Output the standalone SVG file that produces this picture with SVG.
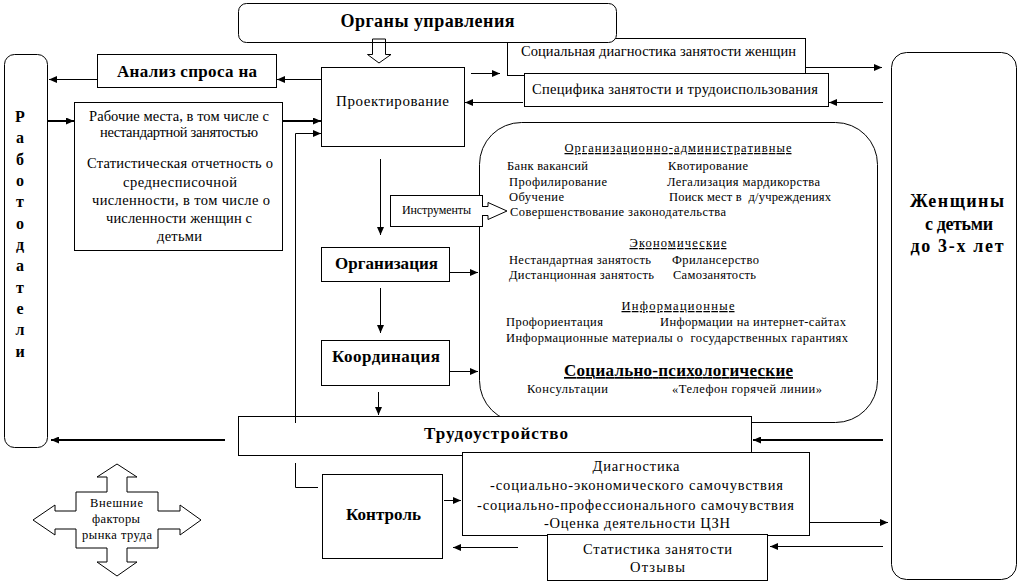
<svg xmlns="http://www.w3.org/2000/svg" width="1021" height="585" viewBox="0 0 1021 585">
<style>
.b{fill:#fff;stroke:#000;stroke-width:1}
.t{font-family:'Liberation Serif','DejaVu Serif',serif;font-size:14.5px;fill:#000}
.m{text-anchor:middle}
.s{font-size:12.5px}
.x{font-size:12px}
.bd{font-weight:bold;font-size:17px}
.u{text-decoration:underline}
.pre{white-space:pre}
.c{stroke:#000;stroke-width:1;fill:none}
.k{stroke-width:2}
</style>
<defs>
<marker id="a" markerUnits="userSpaceOnUse" markerWidth="8" markerHeight="7" refX="8" refY="3.5" orient="auto"><path d="M0,0 L8,3.5 L0,7 z" fill="#000"/></marker>
</defs>
<rect width="1021" height="585" fill="#fff"/>

<g id="rabotodateli">
<rect class="b" x="4.5" y="54.5" width="43" height="393" rx="10"/>
<g class="t m" font-family="Liberation Serif, DejaVu Serif, serif" style="font-weight:bold;font-size:16px">
<text x="20" y="122">Р</text><text x="20" y="143">а</text><text x="20" y="165">б</text><text x="20" y="186">о</text><text x="20" y="207">т</text><text x="20" y="229">о</text><text x="20" y="250">д</text><text x="20" y="271">а</text><text x="20" y="293">т</text><text x="20" y="314">е</text><text x="20" y="335">л</text><text x="20" y="357">и</text>
</g>
</g>

<g id="zhenshchiny">
<rect class="b" x="891.5" y="52.5" width="125" height="527" rx="15"/>
<text class="t m" style="font-weight:bold;font-size:18px" x="957" y="207" textLength="94">Женщины</text>
<text class="t m" style="font-weight:bold;font-size:18px" x="959" y="230" textLength="68">с детьми</text>
<text class="t m" style="font-weight:bold;font-size:18px" x="957" y="252" textLength="93">до 3-х лет</text>
</g>

<g id="socdiag">
<rect class="b" x="507.5" y="38.5" width="298" height="37"/>
<text class="t m" x="658.5" y="56" textLength="275">Социальная диагностика занятости женщин</text>
</g>
<g id="specifika">
<rect class="b" x="524.5" y="73.5" width="304" height="33"/>
<text class="t m" x="675" y="94" textLength="286">Специфика занятости и трудоиспользования</text>
</g>
<g id="organy">
<rect class="b" x="238.5" y="3.5" width="378" height="39" rx="8"/>
<text class="t m" style="font-weight:bold;font-size:18px" x="427.5" y="27" textLength="174">Органы управления</text>
</g>

<g id="analiz">
<rect class="b" x="97.5" y="54.5" width="179" height="33"/>
<text class="t m bd" x="187" y="77" textLength="140">Анализ спроса на</text>
</g>

<g id="rabochie">
<rect class="b" x="74.5" y="102.5" width="208" height="148"/>
<text class="t m" x="179" y="121" textLength="180">Рабочие места, в том числе с</text>
<text class="t m" x="179" y="137" textLength="158">нестандартной занятостью</text>
<text class="t m" x="180" y="168" textLength="186">Статистическая отчетность о</text>
<text class="t m" x="180" y="187" textLength="114">среднесписочной</text>
<text class="t m" x="181" y="205" textLength="178">численности, в том числе о</text>
<text class="t m" x="179" y="223" textLength="146">численности женщин с</text>
<text class="t m" x="179.5" y="241" textLength="45">детьми</text>
</g>

<g id="proektirovanie">
<rect class="b" x="321.5" y="67.5" width="143" height="79"/>
<text class="t m" style="font-size:15px" x="392.5" y="106" textLength="113">Проектирование</text>
</g>

<g id="instrumenty-block">
<rect class="b" x="479.5" y="122.5" width="398" height="300" rx="42"/>
<text class="t s m u" x="678" y="152" textLength="227">Организационно-административные</text>
<text class="t s" x="507" y="170" textLength="81">Банк вакансий</text>
<text class="t s" x="668" y="170" textLength="80">Квотирование</text>
<text class="t s" x="509" y="186" textLength="98">Профилирование</text>
<text class="t s" x="667" y="186" textLength="153">Легализация мардикорства</text>
<text class="t s" x="509" y="201" textLength="55">Обучение</text>
<text class="t s pre" x="669" y="201" textLength="162">Поиск мест в  д/учреждениях</text>
<text class="t s" x="510" y="216" textLength="216">Совершенствование законодательства</text>
<text class="t s m u" x="678" y="247" textLength="97">Экономические</text>
<text class="t s" x="509" y="264" textLength="142">Нестандартная занятость</text>
<text class="t s" x="672" y="264" textLength="87">Фрилансерство</text>
<text class="t s" x="509" y="279" textLength="145">Дистанционная занятость</text>
<text class="t s" x="673" y="279" textLength="83">Самозанятость</text>
<text class="t s m u" x="678" y="310" textLength="113">Информационные</text>
<text class="t s" x="506" y="326" textLength="97">Профориентация</text>
<text class="t s" x="660" y="326" textLength="186">Информации на интернет-сайтах</text>
<text class="t s pre" x="506" y="342" textLength="342">Информационные материалы о  государственных гарантиях</text>
<text class="t m bd u" x="678.5" y="376" textLength="229">Социально-психологические</text>
<text class="t s" x="527" y="393" textLength="81">Консультации</text>
<text class="t s" x="672" y="393" textLength="150">«Телефон горячей линии»</text>
</g>

<g id="instrumenty">
<rect class="b" x="390.5" y="195.5" width="92" height="31"/>
<text class="t x m" x="436.5" y="214" textLength="69">Инструменты</text>
<path d="M482,206.5 H488 V202.5 L507,211 L488,219.5 V215.5 H482" fill="#fff" stroke="#000"/>
<line x1="482.5" y1="207" x2="482.5" y2="215" stroke="#fff" stroke-width="1.2"/>
</g>

<g id="organizaciya">
<rect class="b" x="321.5" y="247.5" width="128" height="34"/>
<text class="t m bd" x="386.5" y="269" textLength="103">Организация</text>
</g>
<g id="koordinaciya">
<rect class="b" x="321.5" y="340.5" width="128" height="45"/>
<text class="t m bd" x="386" y="362" textLength="108">Координация</text>
</g>

<g id="trudoustroistvo">
<rect class="b" x="238.5" y="416.5" width="513" height="39"/>
<text class="t m bd" x="496" y="439" textLength="144">Трудоустройство</text>
</g>

<g id="kontrol">
<rect class="b" x="322.5" y="474.5" width="120" height="84"/>
<text class="t m bd" x="383.5" y="520" textLength="75">Контроль</text>
</g>

<g id="diagnostika">
<rect class="b" x="462.5" y="452.5" width="347" height="83"/>
<text class="t m" x="636" y="471" textLength="87">Диагностика</text>
<text class="t m" x="636.5" y="490" textLength="293">-социально-экономического самочувствия</text>
<text class="t m" x="635.5" y="510" textLength="317">-социально-профессионального самочувствия</text>
<text class="t m" x="637" y="528" textLength="186">-Оценка деятельности ЦЗН</text>
</g>

<g id="statistika">
<rect class="b" x="547.5" y="534.5" width="220" height="46"/>
<text class="t m" x="657.5" y="554" textLength="149">Статистика занятости</text>
<text class="t m" x="657.5" y="572" textLength="55">Отзывы</text>
</g>

<g id="vneshnie">
<path class="b" d="M117,464 L137,477 L127,477 L127,492 L158,492 L158,511 L180,511 L180,505 L201,520 L180,535 L180,529 L158,529 L158,548 L127,548 L127,562 L137,562 L117,576 L97,562 L107,562 L107,548 L76,548 L76,529 L55,529 L55,535 L33,520 L55,505 L55,511 L76,511 L76,492 L107,492 L107,477 L97,477 Z"/>
<text class="t s m" x="116.5" y="507" textLength="53">Внешние</text>
<text class="t s m" x="116" y="523" textLength="48">факторы</text>
<text class="t s m" x="117" y="539" textLength="70">рынка труда</text>
</g>

<g id="connectors">
<path class="c" d="M372.5,39 H385.5 V54.5 H391 L379,63 L367.5,54.5 H372.5 Z"/>
<line class="c" x1="321" y1="79.5" x2="277" y2="79.5" marker-end="url(#a)"/>
<line class="c" x1="97" y1="79.5" x2="49" y2="79.5" marker-end="url(#a)"/>
<line class="c k" x1="48" y1="121" x2="74" y2="121" marker-end="url(#a)"/>
<line class="c k" x1="283" y1="121" x2="321" y2="121" marker-end="url(#a)"/>
<polyline class="c" points="295.5,423 295.5,133.5 321,133.5" marker-end="url(#a)"/>
<line class="c" x1="471" y1="73.5" x2="500" y2="73.5" marker-end="url(#a)"/>
<line class="c" x1="523" y1="102.5" x2="465" y2="102.5" marker-end="url(#a)"/>
<line class="c" x1="806" y1="67.5" x2="882" y2="67.5" marker-end="url(#a)"/>
<line class="c" x1="883" y1="102.5" x2="829" y2="102.5" marker-end="url(#a)"/>
<line class="c" x1="380.5" y1="159" x2="380.5" y2="235" marker-end="url(#a)"/>
<line class="c" x1="380.5" y1="288" x2="380.5" y2="333" marker-end="url(#a)"/>
<line class="c" x1="378.5" y1="392" x2="378.5" y2="415" marker-end="url(#a)"/>
<line class="c" x1="450" y1="272.5" x2="478" y2="272.5" marker-end="url(#a)"/>
<line class="c" x1="450" y1="371.5" x2="478" y2="371.5" marker-end="url(#a)"/>
<line class="c k" x1="225" y1="440" x2="51" y2="440" marker-end="url(#a)"/>
<line class="c k" x1="883" y1="440" x2="753" y2="440" marker-end="url(#a)"/>
<polyline class="c" points="295.5,463 295.5,487.5 318,487.5"/>
<line class="c" x1="444" y1="500.5" x2="461" y2="500.5" marker-end="url(#a)"/>
<line class="c" x1="518" y1="547.5" x2="453" y2="547.5" marker-end="url(#a)"/>
<line class="c" x1="810" y1="522.5" x2="888" y2="522.5" marker-end="url(#a)"/>
<line class="c" x1="883" y1="546.5" x2="770" y2="546.5" marker-end="url(#a)"/>
</g>
</svg>
